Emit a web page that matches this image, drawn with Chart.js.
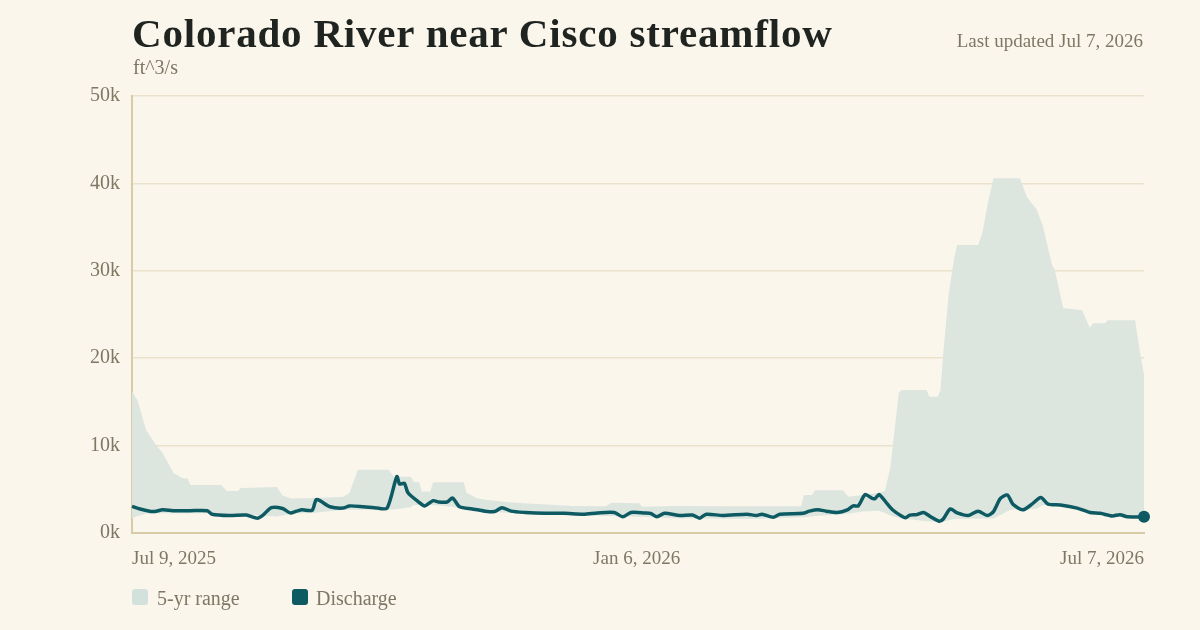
<!DOCTYPE html>
<html>
<head>
<meta charset="utf-8">
<script src="https://cdn.jsdelivr.net/npm/chart.js@4"></script>
<style>
  html, body { margin: 0; padding: 0; }
  body { width: 1200px; height: 630px; background: #faf6ec; position: relative; overflow: hidden; font-family: 'Liberation Serif', serif; }
  #wrap { position: absolute; left: 0; top: 0; width: 1200px; height: 630px; }
  .txt { position: absolute; white-space: nowrap; line-height: 1; }
  #title { left: 132px; top: 13px; font-size: 41px; font-weight: bold; letter-spacing: 0.8px; color: #1f2420; }
  #unit { left: 133px; top: 57px; font-size: 20px; color: #7d7764; }
  #updated { right: 57px; top: 31px; font-size: 19px; color: #7d7764; }
  .key { position: absolute; top: 589px; width: 16px; height: 16px; border-radius: 3px; }
  .keylabel { top: 588px; font-size: 20px; color: #7d7764; }
</style>
</head>
<body>
<div id="wrap"><canvas id="chart" width="1200" height="630"></canvas></div>
<div class="txt" id="title">Colorado River near Cisco streamflow</div>
<div class="txt" id="unit">ft^3/s</div>
<div class="txt" id="updated">Last updated Jul 7, 2026</div>
<div class="key" style="left:132px;background:#d3e1dc"></div>
<div class="txt keylabel" style="left:157px">5-yr range</div>
<div class="key" style="left:292px;background:#0e5a62"></div>
<div class="txt keylabel" style="left:316px">Discharge</div>
<script>
'use strict'

// days since Jul 9, 2025
const tickDays = [0, 181, 363];
const tickLabels = ['Jul 9, 2025', 'Jan 6, 2026', 'Jul 7, 2026'];

// 5-yr range (ft^3/s)
const rangeDays = [0, 2, 5, 9, 11, 15, 18, 20, 21, 32, 34, 38, 39, 52, 54, 57, 65, 76, 78, 81, 92, 94, 100, 101, 103, 104, 107, 108, 119, 120, 124, 127, 136, 147, 158, 170, 172, 182, 183, 194, 222, 240, 241, 244, 245, 255, 257, 262, 268, 270, 272, 273, 275, 276, 285, 286, 289, 290, 291, 293, 295, 296, 303.5, 305, 307, 309, 312, 315, 318.5, 321, 324.6, 326.8, 330, 331, 334, 340.8, 343.6, 344.7, 349, 350, 359.8, 361.6, 363];
const rangeMax = [16200, 15200, 11800, 9900, 9150, 6850, 6300, 6200, 5500, 5500, 4800, 4800, 5150, 5250, 4300, 3950, 4000, 4150, 4600, 7250, 7250, 6450, 6450, 5850, 5800, 4750, 4750, 5800, 5800, 4600, 3950, 3800, 3500, 3300, 3100, 3050, 3450, 3400, 3000, 3100, 3050, 3050, 4350, 4350, 4900, 4900, 4150, 4350, 4600, 4800, 7400, 10300, 16000, 16350, 16350, 15600, 15600, 16350, 20600, 27450, 31600, 32950, 32950, 34300, 37750, 40600, 40600, 40600, 40600, 38450, 36950, 35050, 30650, 30100, 25750, 25500, 23450, 24000, 24000, 24350, 24350, 20600, 18100];
const rangeMin = [1700, 1950, 2200, 2250, 2250, 2250, 2250, 2250, 2250, 2250, 2200, 2150, 2150, 1900, 2000, 2200, 2300, 2650, 2650, 2650, 2700, 2700, 2950, 3200, 3200, 3200, 3200, 3200, 2850, 2800, 2600, 2450, 2300, 2150, 2050, 1950, 1950, 1850, 1850, 1700, 1600, 1800, 1800, 1900, 1950, 2150, 2200, 2450, 2550, 2300, 2000, 1900, 1750, 1700, 1350, 1350, 1300, 1300, 1300, 1450, 1600, 1600, 1650, 1650, 1650, 1650, 2150, 2650, 2700, 2700, 2800, 3200, 3200, 3150, 3000, 2750, 2500, 2450, 2300, 2250, 1850, 1800, 1750];

// discharge (ft^3/s)
const flowDays = [0, 2.9, 7.5, 11, 14.7, 20.8, 27, 28.7, 35, 41, 45, 47, 50, 54, 56.7, 59, 61, 64.6, 66, 67.4, 71, 75.7, 78, 83, 88, 91.5, 95, 96, 97.7, 99, 102.6, 105, 108, 110, 113, 115, 117.5, 122, 126.6, 130, 132.7, 136, 141, 148, 155, 162, 167, 173, 176, 179, 184, 186, 188.3, 191, 196.5, 201, 203.6, 206, 212, 220.6, 224, 226, 230, 232.4, 240.7, 243, 246, 249, 253, 256.6, 258.7, 260.5, 263, 265.5, 266.6, 268, 271, 273, 276, 277.5, 279, 281.5, 284, 286.5, 289.5, 291, 293.5, 296, 300, 303.5, 306.8, 309, 311.5, 314, 316, 319.5, 322.4, 326, 328.6, 333, 339, 343.6, 347.3, 351.6, 354.4, 357, 363];
const flow = [3050, 2750, 2450, 2650, 2550, 2550, 2550, 2150, 2000, 2050, 1700, 2050, 2900, 2800, 2300, 2500, 2650, 2600, 3800, 3700, 3000, 2850, 3100, 3000, 2850, 2850, 6450, 5600, 5700, 4600, 3600, 3100, 3700, 3550, 3550, 4000, 3000, 2750, 2500, 2450, 2900, 2500, 2350, 2250, 2250, 2150, 2300, 2350, 1850, 2350, 2300, 2250, 1850, 2250, 2000, 2050, 1700, 2150, 2000, 2150, 2000, 2150, 1800, 2150, 2250, 2500, 2650, 2500, 2350, 2650, 3100, 3100, 4400, 3950, 3950, 4400, 3300, 2600, 1950, 1750, 2050, 2100, 2350, 1850, 1350, 1600, 2750, 2300, 2000, 2500, 2000, 2450, 3950, 4350, 3300, 2650, 3200, 4050, 3300, 3200, 2850, 2350, 2250, 1950, 2100, 1850, 1850];

const pts = (xs, ys) => xs.map((x, i) => ({ x: x, y: ys[i] }));

const serif = "'Liberation Serif', serif";

new Chart(document.getElementById('chart'), {
  type: 'line',
  data: {
    datasets: [{
      label: 'Discharge',
      data: pts(flowDays, flow),
      borderColor: '#0e5a62',
      borderWidth: 3.5,
      tension: 0.25,
      pointRadius: flow.map((v, i) => i === flow.length - 1 ? 6 : 0),
      pointBackgroundColor: '#0e5a62',
      pointBorderWidth: 0,
      fill: false,
      clip: false,
      order: 0
    }, {
      label: '5-yr range',
      data: pts(rangeDays, rangeMax),
      borderWidth: 0,
      pointRadius: 0,
      tension: 0,
      backgroundColor: '#dce6df',
      fill: '+1',
      order: 1
    }, {
      label: 'min',
      data: pts(rangeDays, rangeMin),
      borderWidth: 0,
      pointRadius: 0,
      tension: 0,
      fill: false,
      order: 2
    }]
  },
  options: {
    responsive: false,
    animation: false,
    layout: { padding: { top: 96, right: 56, bottom: 0, left: 0 } },
    plugins: {
      legend: { display: false },
      tooltip: { enabled: false }
    },
    scales: {
      x: {
        type: 'linear',
        min: 0,
        max: 363,
        afterFit: s => { s.height = 97 },
        afterBuildTicks: s => { s.ticks = tickDays.map(v => ({ value: v })) },
        grid: { display: false, drawTicks: false },
        border: { display: true, color: '#d8cba8', width: 2 },
        ticks: {
          align: 'inner',
          padding: 15,
          maxRotation: 0,
          autoSkip: false,
          color: '#7d7764',
          font: { family: serif, size: 19 },
          callback: v => tickLabels[tickDays.indexOf(v)]
        }
      },
      y: {
        min: 0,
        max: 50000,
        afterFit: s => { s.width = 132 },
        grid: { color: '#ebe2cc', lineWidth: 1.5, drawTicks: false },
        border: { display: true, color: '#d8cba8', width: 2 },
        ticks: {
          stepSize: 10000,
          padding: 12,
          color: '#7d7764',
          font: { family: serif, size: 20 },
          callback: v => (v / 1000) + 'k'
        }
      }
    }
  }
});
</script>
</body>
</html>
